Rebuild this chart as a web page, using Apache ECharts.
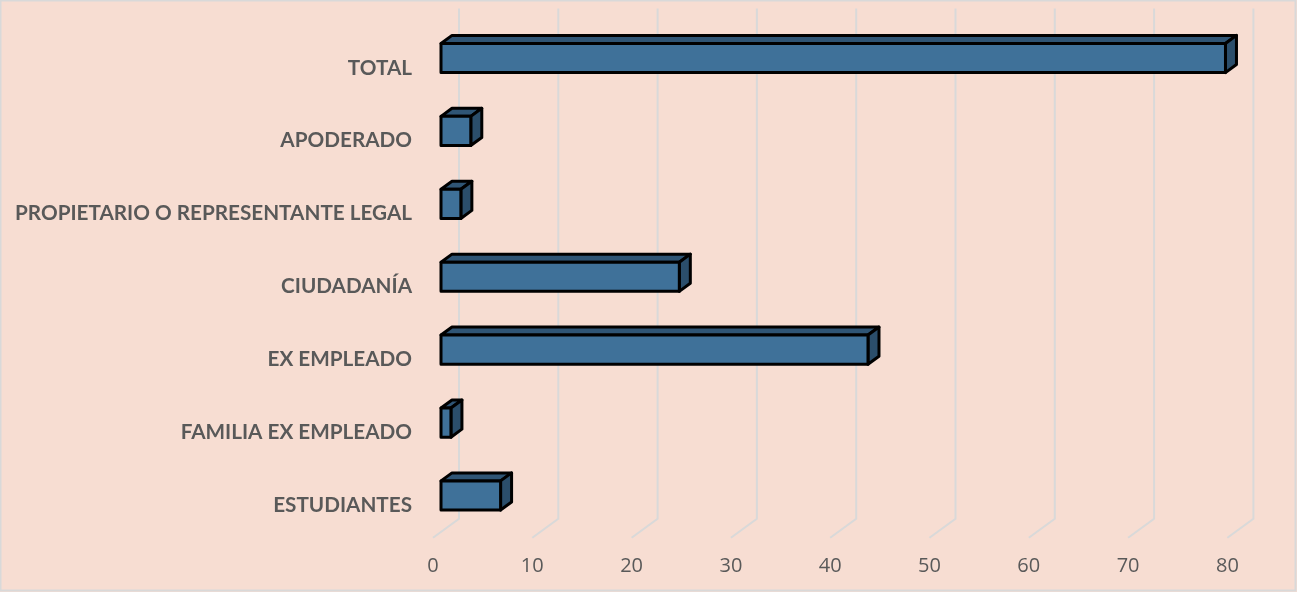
<!DOCTYPE html>
<html>
<head>
<meta charset="utf-8">
<title>Grafico</title>
<script src="https://cdn.jsdelivr.net/npm/echarts@6/dist/echarts.min.js"></script>
<style>
  html, body { margin: 0; padding: 0; background: #f7ddd2; }
  #chartBox { width: 1297px; height: 592px; }
</style>
</head>
<body>
<div id="chartBox"></div>
<script>
/** categorias, de arriba hacia abajo */
var categories = ["TOTAL", "APODERADO", "PROPIETARIO O REPRESENTANTE LEGAL", "CIUDADANÍA", "EX EMPLEADO", "FAMILIA EX EMPLEADO", "ESTUDIANTES"];
/** cantidad por categoria */
var values = [79, 3, 2, 24, 43, 1, 6];
/** marcas del eje de valores */
var tickValues = [0, 10, 20, 30, 40, 50, 60, 70, 80];

/** profundidad del efecto 3D (pixeles): pared del fondo y cara frontal/trasera de la barra */
var wallDepth = 26, barFront = 8, barBack = 19, slope = 19 / 26;

var chart = echarts.init(document.getElementById("chartBox"));

var barData = values.map(function (v, i) { return [v, i]; });
var gridData = tickValues.map(function (v) { return [v]; });

function off(p, d) {
  return [p[0] + d, p[1] - d * slope];
}

var options = {
  backgroundColor: "#f7ddd2",
  animation: false,
  graphic: [{
    type: "rect",
    shape: { x: 0.5, y: 0.5, width: 1295, height: 590 },
    style: { fill: "none", stroke: "#d9d9d9", lineWidth: 2 },
    silent: true
  }],
  grid: { left: 433, top: 27.4, width: 794.4, height: 510.4 },
  xAxis: {
    type: "value",
    min: 0,
    max: 80,
    interval: 10,
    axisLine: { show: false },
    axisTick: { show: false },
    splitLine: { show: false },
    axisLabel: { margin: 18, fontSize: 20, color: "#595959", fontFamily: "Open Sans" }
  },
  yAxis: {
    type: "category",
    inverse: true,
    data: categories,
    axisLine: { show: false },
    axisTick: { show: false },
    axisLabel: {
      margin: 21, fontSize: 20.7, fontWeight: "bold", color: "#595959", fontFamily: "Lato",
      // el texto queda un poco por debajo del centro de la barra
      verticalAlign: "top", lineHeight: 8
    }
  },
  series: [
    {
      // lineas de division en 3D (pared + piso)
      type: "custom",
      z: 1,
      silent: true,
      data: gridData,
      renderItem: function (params, api) {
        var cs = params.coordSys;
        var x = api.coord([api.value(0), 0])[0];
        var bottom = cs.y + cs.height;
        var top = cs.y;
        return {
          type: "polyline",
          shape: { points: [[x + wallDepth, top - wallDepth * slope], [x + wallDepth, bottom - wallDepth * slope], [x, bottom]] },
          style: { fill: "none", stroke: "#d9d9d9", lineWidth: 2 }
        };
      }
    },
    {
      // barras 3D
      type: "custom",
      z: 2,
      data: barData,
      renderItem: function (params, api) {
        var cat = api.value(1);
        var p0 = api.coord([0, cat]);
        var p1 = api.coord([api.value(0), cat]);
        var h = api.size([0, 1])[1] * 0.2;
        var ftl = off([p0[0], p0[1] - h], barFront), ftr = off([p1[0], p1[1] - h], barFront);
        var fbl = off([p0[0], p0[1] + h], barFront), fbr = off([p1[0], p1[1] + h], barFront);
        var btl = off([p0[0], p0[1] - h], barBack), btr = off([p1[0], p1[1] - h], barBack);
        var bbr = off([p1[0], p1[1] + h], barBack);
        var line = { stroke: "#000", lineWidth: 3, lineJoin: "round" };
        return {
          type: "group",
          children: [
            { type: "polygon", shape: { points: [ftl, ftr, btr, btl] }, style: Object.assign({ fill: "#2f5575" }, line) },
            { type: "polygon", shape: { points: [ftr, btr, bbr, fbr] }, style: Object.assign({ fill: "#2b4e6b" }, line) },
            { type: "polygon", shape: { points: [ftl, ftr, fbr, fbl] }, style: Object.assign({ fill: "#3f7199" }, line) }
          ]
        };
      }
    }
  ]
};

chart.setOption(options);
</script>
</body>
</html>
